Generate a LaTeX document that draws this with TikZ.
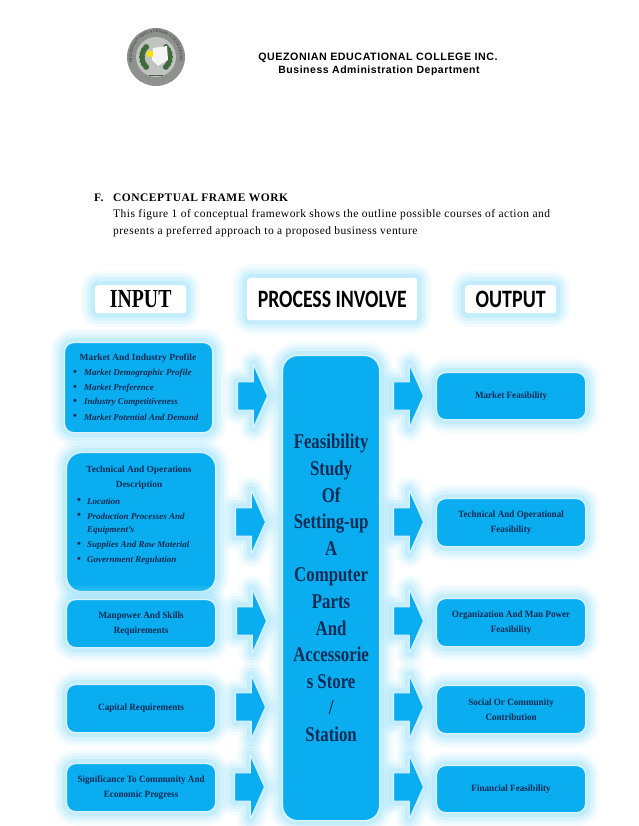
\documentclass[tikz,border=0pt]{standalone}
\usepackage{fontspec}
\setmainfont{Liberation Serif}
\newfontfamily\headfont[LetterSpace=5]{Liberation Sans}
\newfontfamily\pagefont[LetterSpace=4.2]{Liberation Serif}
\newfontfamily\procfont{Carlito}
\usepackage{tikz}
\usetikzlibrary{shapes.arrows,decorations.text}
\definecolor{boxblue}{HTML}{0AAEF0}
\definecolor{glowblue}{HTML}{9FE2FA}
\definecolor{inkblue}{HTML}{0B2C55}
\definecolor{sealgray}{HTML}{8F918E}
\definecolor{sealgreen}{HTML}{3F6B3A}
\tikzset{
  glow/.style={line join=round,
    preaction={draw=glowblue,line width=28pt,opacity=.1},
    preaction={draw=glowblue,line width=22pt,opacity=.15},
    preaction={draw=glowblue,line width=16pt,opacity=.24},
    preaction={draw=glowblue,line width=9pt,opacity=.34}},
  blockbox/.style={rounded corners=9pt,draw=white!85!boxblue,line width=1.2pt,fill=boxblue,
    glow,inner sep=0pt,anchor=north west,align=center,text=inkblue,
    font=\bfseries\addfontfeature{FakeStretch=.95}\fontsize{9.6}{15}\selectfont},
  titlebox/.style={rounded corners=3pt,fill=white,glow,inner sep=0pt,anchor=north west,text=black},
  blockarrow/.style={single arrow,draw=white!85!boxblue,line width=1pt,fill=boxblue,glow,
    minimum width=63pt,minimum height=30pt,inner sep=0pt,text width=1pt,text height=27pt,text depth=0pt,
    single arrow head extend=17pt,single arrow tip angle=132,anchor=west},
  itemtext/.style={anchor=west,inner sep=0pt,text=inkblue,font=\bfseries\itshape\fontsize{9}{11}\selectfont},
  bullettext/.style={anchor=center,inner sep=0pt,text=inkblue,font=\bfseries\fontsize{11}{11}\selectfont},
  pageline/.style={anchor=west,inner sep=0pt,font=\pagefont\fontsize{11.5}{13}\selectfont},
}
\begin{document}
\begin{tikzpicture}[x=1pt,y=-1pt]
  \useasboundingbox (0,0) rectangle (638,826);
  % seal
  \fill[sealgray] (156,57) circle (29);
  \fill[white!45!sealgray] (156,57) circle (20);
  \foreach \a in {135,150,...,225}{
    \fill[sealgreen] (156,57) ++(\a:14) circle (3);
    \fill[sealgreen] (156,57) ++(180-\a:14) circle (3);}
  \fill[white!90!sealgray] (153,48) -- (167,46) -- (168,60) -- (158,66) -- (152,60) -- cycle;
  \fill[yellow!85!orange] (150,54) circle (3.4);
  \fill[black!65] (149,75) rectangle (163,76);
  \path[decorate,decoration={text along path,text align=center,raise=-1.6pt,
    text={|\fontsize{4.3}{5}\selectfont\bfseries\color{black!70}|QUEZONIAN EDUCATIONAL COLLEGE INC.}}]
    (132,66) arc (159:381:25.6);
  % page header
  \node[inner sep=0pt,font=\headfont\bfseries\fontsize{10.7}{12}\selectfont] (college) at (378,58) {QUEZONIAN EDUCATIONAL COLLEGE INC.};
  \node[inner sep=0pt,font=\headfont\bfseries\fontsize{10.5}{12}\selectfont] (dept) at (379,71) {Business Administration Department};
  \node[pageline,font=\pagefont\bfseries\fontsize{11.5}{13}\selectfont] (letterF) at (94,198) {F.};
  \node[pageline,font=\pagefont\bfseries\fontsize{11.5}{13}\selectfont] (heading) at (113,198) {CONCEPTUAL FRAME WORK};
  \node[pageline] (line1) at (113,215) {This figure 1 of conceptual framework shows the outline possible courses of action and};
  \node[pageline] (line2) at (113,232) {presents a preferred approach to a proposed business venture};
  % column titles
  \node[titlebox,minimum width=91pt,minimum height=28pt,font=\bfseries\addfontfeature{FakeStretch=.76}\fontsize{26}{28}\selectfont] (inputT) at (95,285) {INPUT};
  \node[titlebox,minimum width=170pt,minimum height=42pt,font=\procfont\bfseries\addfontfeature{FakeStretch=.79}\fontsize{25}{28}\selectfont] (processT) at (247,278) {PROCESS INVOLVE};
  \node[titlebox,minimum width=91pt,minimum height=28pt,font=\procfont\bfseries\addfontfeature{FakeStretch=.8}\fontsize{25}{28}\selectfont] (outputT) at (465,285) {OUTPUT};
  % input boxes
  \node[blockbox,minimum width=148pt,minimum height=90pt] (market) at (64,342) {};
  \node[blockbox,minimum width=149pt,minimum height=139pt,rounded corners=15pt] (technical) at (66,452) {};
  \node[blockbox,minimum width=149pt,minimum height=48pt] (manpower) at (66,599) {Manpower And Skills\\Requirements};
  \node[blockbox,minimum width=149pt,minimum height=48pt] (capital) at (66,684) {Capital Requirements};
  \node[blockbox,minimum width=149pt,minimum height=48pt] (significance) at (66,763) {Significance To Community And\\Economic Progress};
  \node[inner sep=0pt,text=inkblue,font=\bfseries\fontsize{9.4}{11}\selectfont] (marketT) at (138,358) {Market And Industry Profile};
  \foreach \y/\t/\n in {373/Market Demographic Profile/a,388/Market Preference/b,402/Industry Competitiveness/c,417/Market Potential And Demand/d}{
    \node[bullettext] (mb\n) at (75,\y) {•};
    \node[itemtext] (mi\n) at (84,\y) {\t};}
  \node[inner sep=0pt,align=center,text=inkblue,font=\bfseries\fontsize{9.4}{15}\selectfont] (technicalT) at (139,478) {Technical And Operations\\Description};
  \foreach \y/\t/\n in {501/Location/a,516/Production Processes And/b,545/Supplies And Raw Material/c,560/Government Regulation/d}{
    \node[bullettext] (tb\n) at (79,\y) {•};
    \node[itemtext] (ti\n) at (87,\y) {\t};}
  \node[itemtext] (tie) at (87,530) {Equipment's};
  % centre column
  \node[blockbox,minimum width=97pt,minimum height=465pt,rounded corners=15pt,font=\bfseries\addfontfeature{FakeStretch=.8}\fontsize{21}{26.6}\selectfont] (study) at (282,355) {Feasibility\\Study\\Of\\Setting-up\\A\\Computer\\Parts\\And\\Accessorie\\s Store\\/\\Station};
  % output boxes
  \node[blockbox,minimum width=149pt,minimum height=47pt] (outA) at (436,372) {Market Feasibility};
  \node[blockbox,minimum width=149pt,minimum height=48pt] (outB) at (436,498) {Technical And Operational\\Feasibility};
  \node[blockbox,minimum width=149pt,minimum height=48pt] (outC) at (436,598) {Organization And Man Power\\Feasibility};
  \node[blockbox,minimum width=149pt,minimum height=48pt] (outD) at (436,685) {Social Or Community\\Contribution};
  \node[blockbox,minimum width=149pt,minimum height=47pt] (outE) at (436,765) {Financial Feasibility};
  % arrows
  \foreach \x/\y/\n in {237/396/a,235/522/b,236/621/c,235/707/d,234/787/e}
    \node[blockarrow] (inArrow\n) at (\x,\y) {};
  \foreach \y/\n in {396/a,522/b,621/c,707/d,787/e}
    \node[blockarrow] (outArrow\n) at (393,\y) {};
\end{tikzpicture}
\end{document}
